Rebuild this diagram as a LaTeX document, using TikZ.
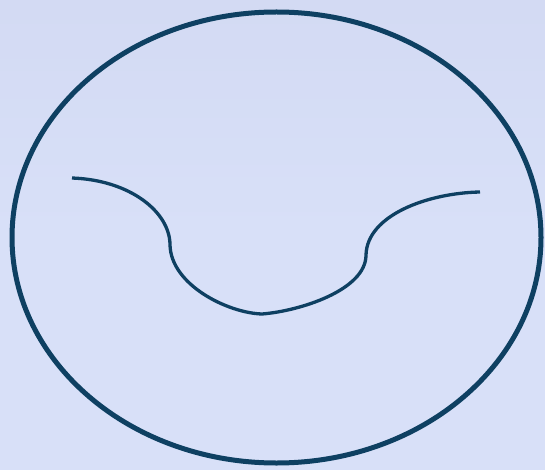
\documentclass[tikz,border=0pt]{standalone}
\usepackage{tikz}
\definecolor{bgtop}{RGB}{211,218,243}
\definecolor{bgmid}{RGB}{216,224,248}
\definecolor{ink}{RGB}{14,64,98}
\begin{document}
\begin{tikzpicture}[x=1pt,y=-1pt, line join=round, line cap=butt]
			\tikzset{rim/.style={draw=ink,line width=5pt}}
			\tikzset{cut/.style={draw=ink,line width=3.3pt}}
			\def\xmin{0} \def\xmax{545}
			\def\ymin{0} \def\ymax{470}
			\shade[top color=bgtop,bottom color=bgmid,middle color=bgmid] (\xmin,\ymin) rectangle (\xmax,\ymax);
			\useasboundingbox (\xmin,\ymin) rectangle (\xmax,\ymax);
			%\draw[color=gray!50,dashed] (\xmin,\ymin) grid[step=50] (\xmax,\ymax);
			\coordinate (c) at (276.5,237.5);
			\draw[rim] (c) ellipse [x radius=264.5, y radius=225.5];
			\coordinate (l) at (72,178);
			\coordinate (lb) at (170,245);
			\coordinate (b) at (262,314);
			\coordinate (rb) at (366,255);
			\coordinate (r) at (480,192);
			\draw[cut] (l) .. controls (130,180) and (170,212) .. (lb)
			.. controls (171,285) and (228,313) .. (b)
			.. controls (300,311) and (366,290) .. (rb)
			.. controls (367,215) and (428,193) .. (r);
		\end{tikzpicture}
\end{document}
